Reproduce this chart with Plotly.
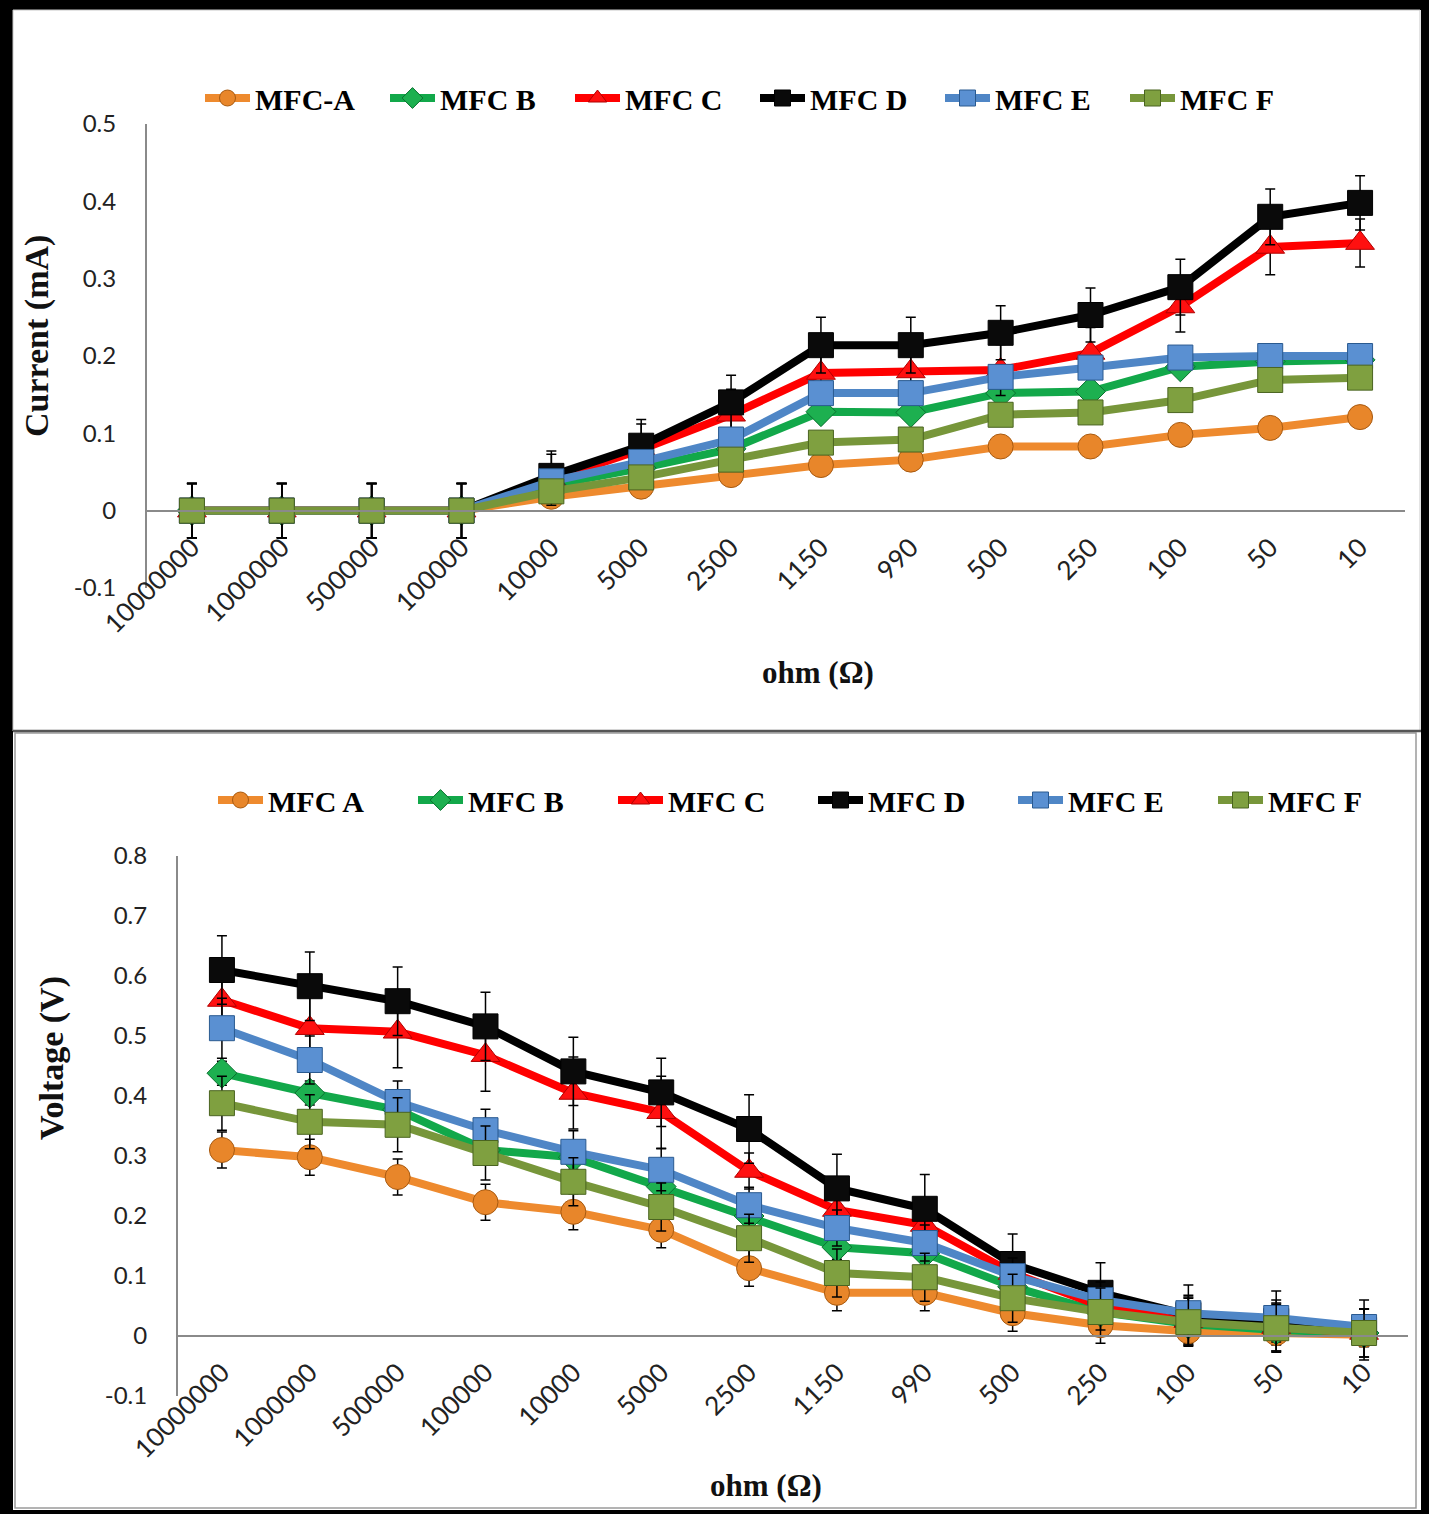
import plotly.graph_objects as go

W, H = 1439, 1514

categories = ["10000000", "1000000", "500000", "100000", "10000", "5000", "2500",
              "1150", "990", "500", "250", "100", "50", "10"]

names_top = ["MFC-A", "MFC B", "MFC C", "MFC D", "MFC E", "MFC F"]
names_bottom = ["MFC A", "MFC B", "MFC C", "MFC D", "MFC E", "MFC F"]

current_A = [0, 0, 0, 0, 0.018, 0.031, 0.046, 0.059, 0.066, 0.083, 0.083, 0.098, 0.107, 0.121]
current_B = [0, 0, 0, 0, 0.033, 0.055, 0.080, 0.128, 0.127, 0.152, 0.154, 0.186, 0.193, 0.195]
current_C = [0, 0, 0, 0, 0.040, 0.079, 0.124, 0.178, 0.180, 0.182, 0.204, 0.264, 0.341, 0.346]
current_D = [0, 0, 0, 0, 0.045, 0.084, 0.140, 0.214, 0.214, 0.230, 0.253, 0.289, 0.380, 0.398]
current_E = [0, 0, 0, 0, 0.038, 0.063, 0.092, 0.152, 0.152, 0.173, 0.185, 0.198, 0.200, 0.200]
current_F = [0, 0, 0, 0, 0.025, 0.043, 0.066, 0.088, 0.092, 0.124, 0.127, 0.143, 0.169, 0.172]

current_err_A = [0.035, 0.035, 0.035, 0.035, 0.01, 0.01, 0.01, 0.01, 0.01, 0.01, 0.01, 0.01, 0.01, 0.01]
current_err_B = [0.035, 0.035, 0.035, 0.035, 0.01, 0.01, 0.01, 0.01, 0.01, 0.01, 0.01, 0.01, 0.01, 0.01]
current_err_C = [0.035, 0.035, 0.035, 0.035, 0.033, 0.033, 0.033, 0.033, 0.033, 0.033, 0.033, 0.033, 0.036, 0.031]
current_err_D = [0.035, 0.035, 0.035, 0.035, 0.032, 0.034, 0.035, 0.036, 0.036, 0.035, 0.035, 0.036, 0.036, 0.035]
current_err_E = [0.035, 0.035, 0.035, 0.035, 0.01, 0.01, 0.01, 0.01, 0.01, 0.01, 0.01, 0.01, 0.01, 0.01]
current_err_F = [0.035, 0.035, 0.035, 0.035, 0.01, 0.01, 0.01, 0.01, 0.01, 0.01, 0.01, 0.01, 0.01, 0.01]

voltage_A = [0.310, 0.298, 0.265, 0.223, 0.207, 0.177, 0.113, 0.072, 0.072, 0.038, 0.018, 0.008, 0.005, 0.002]
voltage_B = [0.438, 0.405, 0.377, 0.310, 0.298, 0.249, 0.200, 0.148, 0.138, 0.082, 0.040, 0.020, 0.010, 0.005]
voltage_C = [0.560, 0.513, 0.507, 0.468, 0.405, 0.373, 0.275, 0.210, 0.185, 0.105, 0.050, 0.025, 0.015, 0.005]
voltage_D = [0.610, 0.583, 0.558, 0.516, 0.441, 0.406, 0.345, 0.246, 0.212, 0.120, 0.072, 0.035, 0.025, 0.010]
voltage_E = [0.513, 0.460, 0.390, 0.343, 0.307, 0.277, 0.218, 0.180, 0.155, 0.100, 0.060, 0.038, 0.030, 0.015]
voltage_F = [0.388, 0.357, 0.352, 0.305, 0.257, 0.215, 0.163, 0.105, 0.098, 0.063, 0.040, 0.023, 0.013, 0.005]

voltage_err_A = [0.03, 0.03, 0.03, 0.03, 0.03, 0.03, 0.03, 0.03, 0.03, 0.03, 0.03, 0.02, 0.02, 0.02]
voltage_err_B = [0.02, 0.02, 0.02, 0.02, 0.02, 0.02, 0.02, 0.02, 0.02, 0.02, 0.02, 0.02, 0.02, 0.02]
voltage_err_C = [0.06, 0.06, 0.06, 0.06, 0.06, 0.06, 0.03, 0.03, 0.03, 0.03, 0.04, 0.04, 0.04, 0.04]
voltage_err_D = [0.057, 0.057, 0.057, 0.057, 0.057, 0.057, 0.057, 0.057, 0.057, 0.05, 0.05, 0.05, 0.05, 0.05]
voltage_err_E = [0.05, 0.04, 0.035, 0.035, 0.035, 0.035, 0.03, 0.03, 0.03, 0.03, 0.03, 0.03, 0.03, 0.03]
voltage_err_F = [0.045, 0.045, 0.045, 0.045, 0.04, 0.04, 0.04, 0.04, 0.04, 0.04, 0.04, 0.04, 0.04, 0.04]

ytick_top_vals = [-0.1, 0, 0.1, 0.2, 0.3, 0.4, 0.5]
ytick_top_text = ["-0.1", "0", "0.1", "0.2", "0.3", "0.4", "0.5"]
ytick_bot_vals = [-0.1, 0, 0.1, 0.2, 0.3, 0.4, 0.5, 0.6, 0.7, 0.8]
ytick_bot_text = ["-0.1", "0", "0.1", "0.2", "0.3", "0.4", "0.5", "0.6", "0.7", "0.8"]

line_colors = ["#EE8A2E", "#12A84A", "#FF0000", "#000000", "#4F86C6", "#77963A"]
marker_colors = ["#E8862A", "#1DB050", "#FF1010", "#0A0A0A", "#5A90D2", "#7FA040"]
outline_colors = ["#A85A10", "#0A7030", "#B00000", "#000000", "#2A5A90", "#4A6420"]
symbols = ["circle", "diamond", "triangle-up", "square", "square", "square"]
sizes = [25, 23, 25, 25, 25, 25]

current_series = [current_A, current_B, current_C, current_D, current_E, current_F]
current_errs = [current_err_A, current_err_B, current_err_C, current_err_D, current_err_E, current_err_F]
voltage_series = [voltage_A, voltage_B, voltage_C, voltage_D, voltage_E, voltage_F]
voltage_errs = [voltage_err_A, voltage_err_B, voltage_err_C, voltage_err_D, voltage_err_E, voltage_err_F]

def px_x(p):
    return p / W

def px_y(p):
    return 1 - p / H

fig = go.Figure()

for i in range(6):
    fig.add_trace(go.Scatter(
        x=categories, y=current_series[i], name=names_top[i], mode="lines+markers",
        line=dict(color=line_colors[i], width=8),
        marker=dict(symbol=symbols[i], size=sizes[i], color=marker_colors[i],
                    line=dict(color=outline_colors[i], width=1)),
        error_y=dict(type="data", array=current_errs[i], visible=True,
                     color="#000000", thickness=1.5, width=5),
        xaxis="x", yaxis="y", legend="legend"))

for i in range(6):
    fig.add_trace(go.Scatter(
        x=categories, y=voltage_series[i], name=names_bottom[i], mode="lines+markers",
        line=dict(color=line_colors[i], width=8),
        marker=dict(symbol=symbols[i], size=sizes[i], color=marker_colors[i],
                    line=dict(color=outline_colors[i], width=1)),
        error_y=dict(type="data", array=voltage_errs[i], visible=True,
                     color="#000000", thickness=1.5, width=5),
        xaxis="x2", yaxis="y2", legend="legend2"))

ytick_font = dict(family="Lato, Liberation Sans, sans-serif", size=24, color="#222222")
xtick_font = dict(family="Lato, Liberation Sans, sans-serif", size=26, color="#222222")
title_font = dict(family="Liberation Serif, serif", size=32, color="#111111")
legend_font = dict(family="Liberation Serif, serif", size=30, color="#000000", weight="bold")

fig.update_layout(
    width=W, height=H,
    margin=dict(l=0, r=0, t=0, b=0),
    paper_bgcolor="white", plot_bgcolor="rgba(0,0,0,0)",
    template="none",
    showlegend=True,
    xaxis=dict(domain=[px_x(147), px_x(1405)], type="category", range=[-0.5, 13.5],
               anchor="free", position=px_y(511), showline=True, linecolor="#8a8a8a",
               linewidth=2, showgrid=False, zeroline=False, ticks="", tickangle=-45,
               tickfont=xtick_font, ticklabelstandoff=10, automargin=False),
    yaxis=dict(domain=[px_y(588), px_y(124)], range=[-0.1, 0.5], tickvals=ytick_top_vals,
               ticktext=ytick_top_text, showline=True, linecolor="#8a8a8a", linewidth=2,
               showgrid=False, zeroline=False, ticks="", tickfont=ytick_font,
               ticklabelstandoff=24, anchor="x", automargin=False),
    xaxis2=dict(domain=[px_x(178), px_x(1408)], type="category", range=[-0.5, 13.5],
                anchor="free", position=px_y(1336), showline=True, linecolor="#8a8a8a",
                linewidth=2, showgrid=False, zeroline=False, ticks="", tickangle=-45,
                tickfont=xtick_font, ticklabelstandoff=10, automargin=False),
    yaxis2=dict(domain=[px_y(1396), px_y(856)], range=[-0.1, 0.8], tickvals=ytick_bot_vals,
                ticktext=ytick_bot_text, showline=True, linecolor="#8a8a8a", linewidth=2,
                showgrid=False, zeroline=False, ticks="", tickfont=ytick_font,
                ticklabelstandoff=24, anchor="x2", automargin=False),
    legend=dict(orientation="h", x=px_x(200), xanchor="left", y=px_y(98), yanchor="middle",
                font=legend_font, itemwidth=45, entrywidth=125, bgcolor="rgba(0,0,0,0)",
                tracegroupgap=0),
    legend2=dict(orientation="h", x=px_x(213), xanchor="left", y=px_y(800), yanchor="middle",
                 font=legend_font, itemwidth=45, entrywidth=140, bgcolor="rgba(0,0,0,0)",
                 tracegroupgap=0),
)

annotations = [
    dict(text="<b>Current (mA)</b>", x=px_x(37), y=px_y(336), textangle=-90, size=34),
    dict(text="<b>ohm (Ω)</b>", x=px_x(818), y=px_y(672), textangle=0, size=31),
    dict(text="<b>Voltage (V)</b>", x=px_x(52), y=px_y(1058), textangle=-90, size=34),
    dict(text="<b>ohm (Ω)</b>", x=px_x(766), y=px_y(1485), textangle=0, size=31),
]
for a in annotations:
    f = dict(title_font)
    f["size"] = a.pop("size")
    fig.add_annotation(xref="paper", yref="paper", showarrow=False, xanchor="center",
                       yanchor="middle", font=f, **a)

def rect(x0, y0, x1, y1, fill=None, line_color=None, lw=0):
    fig.add_shape(type="rect", xref="paper", yref="paper",
                  x0=px_x(x0), x1=px_x(x1), y0=px_y(y1), y1=px_y(y0),
                  fillcolor=fill if fill else "rgba(0,0,0,0)",
                  line=dict(color=line_color if line_color else "rgba(0,0,0,0)", width=lw),
                  layer="below")

# outer black frame
rect(0, 0, 1429, 10, fill="#000000")
rect(0, 0, 13, 1514, fill="#000000")
rect(1421, 0, 1429, 1514, fill="#000000")
rect(0, 1510, 1429, 1514, fill="#000000")
# panel borders
rect(13, 10, 1420, 731, line_color="#c8c8c8", lw=1)
rect(15, 733, 1416, 1508, line_color="#9a9a9a", lw=1.5)
fig.add_shape(type="line", xref="paper", yref="paper", x0=px_x(13), x1=px_x(1421),
              y0=px_y(731), y1=px_y(731), line=dict(color="#555555", width=2.5), layer="below")

fig.write_html("out.html", config={"displayModeBar": False},
               post_script="document.body.style.margin='0';document.body.style.padding='0';")
